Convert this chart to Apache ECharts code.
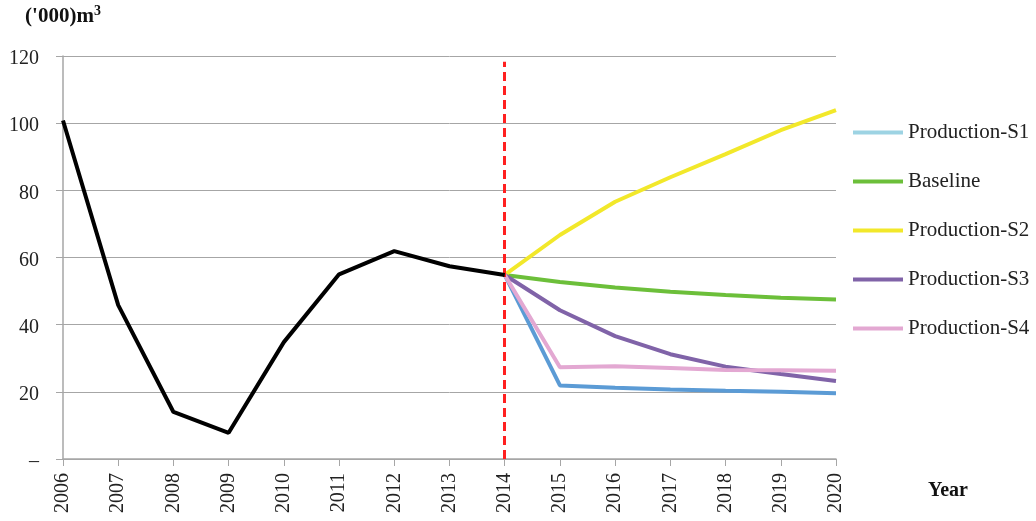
<!DOCTYPE html>
<html><head><meta charset="utf-8">
<script src="https://cdn.jsdelivr.net/npm/echarts@6/dist/echarts.min.js"></script>
<style>html,body{margin:0;padding:0;background:#fff}#c{width:1036px;height:521px}</style>
</head><body><div id="c"></div>
<script>
const years = ['2006','2007','2008','2009','2010','2011','2012','2013','2014','2015','2016','2017','2018','2019','2020'];
const historical = [100.8,45.8,14.0,7.8,34.8,55.0,61.9,57.4,54.8,null,null,null,null,null,null];
const production_S1 = [null,null,null,null,null,null,null,null,54.8,21.9,21.2,20.7,20.3,20.0,19.6];
const baseline = [null,null,null,null,null,null,null,null,54.8,52.7,51.1,49.8,48.8,48.0,47.5];
const production_S2 = [null,null,null,null,null,null,null,null,54.8,66.7,76.6,83.9,90.8,97.9,103.9];
const production_S3 = [null,null,null,null,null,null,null,null,54.8,44.3,36.6,31.2,27.5,25.3,23.2];
const production_S4 = [null,null,null,null,null,null,null,null,54.8,27.3,27.6,27.1,26.5,26.4,26.3];
const yTicks = [0,20,40,60,80,100,120];

const F = 'Liberation Serif, Times New Roman, serif';
const chart = echarts.init(document.getElementById('c'));
function s(name, data, color, z){
  return {name, type:'line', data, symbol:'none', smooth:false, z:z||2,
    lineStyle:{color, width:4}, itemStyle:{color}};
}
chart.setOption({
  animation:false,
  grid:{left:63, right:200, top:56, bottom:62},
  legend:{
    orient:'vertical', left:848, top:117, itemWidth:50, itemHeight:4, itemGap:28,
    icon:'rect',
    textStyle:{fontFamily:F, fontSize:21, color:'#222', lineHeight:20},
    data:[
      {name:'Production-S1', itemStyle:{color:'#9DD3E3'}},
      {name:'Baseline'},{name:'Production-S2'},{name:'Production-S3'},{name:'Production-S4'}
    ]
  },
  xAxis:{
    type:'category', data:years, boundaryGap:false,
    name:'Year', nameLocation:'end', nameGap:92,
    nameTextStyle:{fontFamily:F, fontSize:20, fontWeight:'bold', color:'#111', align:'left', verticalAlign:'top', padding:[22,0,0,0]},
    axisLine:{lineStyle:{color:'#A6A6A6', width:1.5}},
    axisTick:{show:true, length:7, lineStyle:{color:'#A6A6A6'}},
    axisLabel:{rotate:90, fontFamily:F, fontSize:20, color:'#222', margin:14},
    splitLine:{show:false}
  },
  yAxis:{
    type:'value', min:0, max:120, interval:20,
    name:"('000)m{sup|3}", nameLocation:'end', nameGap:26,
    nameTextStyle:{fontFamily:F, fontSize:21, fontWeight:'bold', color:'#111', align:'center',
      rich:{sup:{fontFamily:F, fontSize:14, fontWeight:'bold', color:'#111', verticalAlign:'top', padding:[0,0,12,0]}}},
    axisLine:{show:true, lineStyle:{color:'#A6A6A6', width:1.5}},
    axisTick:{show:true, length:7, lineStyle:{color:'#A6A6A6'}},
    axisLabel:{fontFamily:F, fontSize:20, color:'#222', margin:24, verticalAlign:'top', lineHeight:6,
      formatter:v=> v===0 ? '–' : String(v)},
    splitLine:{lineStyle:{color:'#A6A6A6', width:1}}
  },
  series:[
    Object.assign(s('Historical', historical, '#000000', 5), {
      markLine:{symbol:'none', silent:true, label:{show:false},
        lineStyle:{color:'#FF2020', type:[9,5], width:3},
        data:[[{coord:['2014',0]},{coord:['2014',118.3]}]]}
    }),
    s('Production-S1', production_S1, '#5B9BD5'),
    s('Baseline', baseline, '#6CBF3A'),
    s('Production-S2', production_S2, '#F2E82A'),
    s('Production-S3', production_S3, '#8063A8'),
    s('Production-S4', production_S4, '#E3A8D2')
  ]
});
</script></body></html>
